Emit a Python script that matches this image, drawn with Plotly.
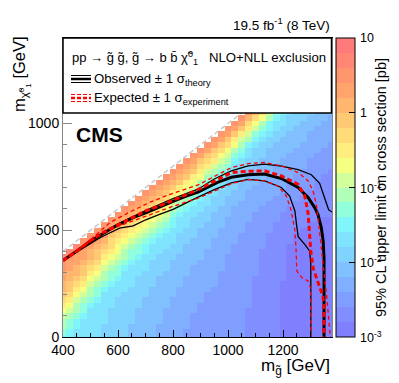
import math

import plotly.graph_objects as go

# gluino mass columns (bin centres) and LSP rows (bin centres)
mgl = list(range(400, 1400, 25))
mlsp = list(range(0, 1075, 25))

# 95% CL upper limit per gluino column, bottom to top, as colour step
# (step 0 = 1e-3 pb ... step 19 = 10 pb, 5 steps per decade), "step*count"
lim_cols = [
    "7 8 9*2 10 11 12 13 14 15*2 16*2 17*2 18",
    "7*2 8*2 9 10 11 12 13 14*2 15*2 16*2 17 18",
    "6*2 7*2 8 9*2 10 11 12 13 14 15*2 16*2 17 18",
    "6*4 7 8*2 9 10 11 12 13 14*2 15 16*2 17*2",
    "6*6 7 8 9*2 10 11 12 13 14 15*2 16 17*2",
    "6*7 7 8*2 9 10 11 12 13 14*2 15 16 17*2",
    "5*3 6*6 7 8 9*2 10 11 12 13 14 15 16*2 17",
    "5*6 6*4 7 8*2 9 10 11 12 13*2 14 15 16 17",
    "5*8 6*3 7 8*2 9 10 11*2 12 13 14 15 16 17",
    "5*9 6*4 7 8 9*2 10 11 12 13 14 15 16 17",
    "4*3 5*7 6*4 7 8*2 9 10 11 12 13 14 15 16 17",
    "4*6 5*6 6*3 7 8*2 9 10 11 12 13 14 15 16 17",
    "4*8 5*5 6*3 7*2 8 9 10 11 12 13 14 15 16 17",
    "4*10 5*5 6*3 7 8 9 10 11 12 13 14 15 16 17",
    "3*3 4*9 5*4 6*3 7 8 9 10 11 12 13 14 15 16 17",
    "3*6 4*7 5*4 6*3 7 8 9 10 11 12 13 14 15 16 17",
    "3*8 4*7 5*3 6*3 7*2 8 9 10 11 12 14 15 16 17",
    "3*10 4*6 5*4 6*3 7 8 9 10 11 12 14 15 16 17",
    "2*2 3*10 4*6 5*3 6*3 7 8 9 10 11 12 14 15 16 17",
    "2*5 3*9 4*5 5*4 6*2 7 8 9 10 11 12 14 15 16 17",
    "2*7 3*8 4*6 5*3 6*2 7*2 8 9 11 12 13 14 16 17",
    "2*9 3*8 4*5 5*3 6*3 7 8 9 10 12 13 14 16 17",
    "2*10 3*9 4*5 5*3 6*2 7 8 9 10 12 13 14 16 17",
    "2*13 3*8 4*4 5*3 6*2 7 8 9 10 11 13 14 16 17",
    "2*16 3*7 4*4 5*3 6 7 8 9 10 11 13 14 16 17",
    "2*18 3*7 4*3 5*3 6*2 7 8 9 11 12 14 16 17",
    "2*20 3*6 4*4 5*3 6 7 8 9 10 12 14 16 17",
    "1*6 2*16 3*6 4*4 5*2 6*2 7 9 10 12 13 15 17",
    "1*12 2*12 3*5 4*4 5*3 6 7 8 10 11 13 15",
    "1*17 2*8 3*5 4*4 5*3 6 7 8 9 11 13",
    "1*20 2*6 3*5 4*5 5*2 6 7*2 9 10",
    "1*22 2*5 3*6 4*4 5*2 6*2 7 8",
    "0*11 1*13 2*4 3*6 4*4 5*2 6*2 7",
    "0*18 1*7 2*5 3*5 4*4 5*3 6",
    "0*20 1*6 2*5 3*5 4*4 5*3",
    "0*21 1*6 2*5 3*5 4*4 5*2",
    "0*22 1*6 2*6 3*5 4*3 5",
    "0*22 1*8 2*5 3*5 4*3",
    "0*23 1*8 2*5 3*5 4*2",
    "0*23 1*9 2*5 3*5 4",
]

# contours
obs_x = [400, 425, 450, 475, 500, 525, 550, 575, 600, 655, 703, 751, 800, 848, 891, 964,
         1012, 1073, 1133, 1194, 1255, 1291, 1315, 1327, 1339, 1346, 1349, 1349]
obs_y = [358, 380, 400, 425, 450, 470, 490, 507, 525, 559, 582, 610, 635, 660, 678, 725,
         748, 760, 763, 742, 700, 653, 606, 574, 512, 449, 371, 0]
obs_up_x = [400, 450, 500, 550, 600, 700, 800, 891, 950, 1012, 1073, 1133, 1194, 1255,
            1303, 1333, 1346, 1358, 1366, 1378]
obs_up_y = [358, 402, 452, 493, 530, 592, 648, 692, 740, 778, 801, 809, 800, 784,
            760, 720, 675, 625, 595, 585]
obs_dn_x = [400, 450, 500, 530, 558, 606, 655, 703, 751, 800, 891, 950, 1012, 1073, 1133,
            1194, 1224, 1243, 1249, 1255, 1279, 1297, 1301, 1301]
obs_dn_y = [358, 398, 440, 462, 480, 510, 520, 550, 574, 598, 655, 690, 722, 738, 731,
            700, 660, 590, 527, 470, 434, 402, 340, 0]
exp_x = [400, 450, 500, 550, 600, 700, 764, 800, 891, 1012, 1073, 1133, 1194, 1255, 1279,
         1291, 1297, 1301, 1310, 1330, 1345, 1349, 1349]
exp_y = [358, 402, 452, 493, 525, 590, 621, 640, 690, 770, 776, 778, 754, 715, 660,
         580, 480, 400, 320, 250, 190, 140, 0]
exp_up_x = [400, 450, 500, 540, 570, 642, 715, 788, 891, 1012, 1073, 1133, 1194, 1255,
            1291, 1309, 1321, 1327, 1333, 1340, 1349, 1358, 1366, 1372]
exp_up_y = [358, 404, 455, 500, 535, 585, 630, 668, 712, 793, 812, 817, 801, 770,
            731, 684, 621, 560, 480, 400, 300, 200, 100, 0]
exp_dn_x = [400, 450, 500, 550, 600, 700, 800, 891, 1012, 1073, 1133, 1182, 1212, 1230,
            1243, 1247, 1250, 1267, 1291, 1300, 1301]
exp_dn_y = [358, 400, 448, 488, 518, 565, 612, 650, 718, 737, 731, 707, 660, 590,
            500, 418, 310, 280, 262, 230, 0]

diag = [400, 1400]

cb_vals = [-3, -2, -1, 0, 1]
cb_text = ["10<sup>-3</sup>", "10<sup>-2</sup>", "10<sup>-1</sup>", "1", "10"]

palette = [
    "#8080ff", "#808eff", "#809eff", "#80afff", "#80c0ff",
    "#80d2ff", "#80e4ff", "#80f6fa", "#91ffdc", "#afffb9",
    "#d2ff9b", "#f5ff80", "#ffee7d", "#ffdc78", "#ffc873",
    "#ffb66e", "#ffa56c", "#ff966e", "#ff8773", "#ff7a7a",
]


def decode(col):
    out = []
    for tok in col.split():
        if "*" in tok:
            lev, n = tok.split("*")
        else:
            lev, n = tok, 1
        out += [int(lev)] * int(n)
    return out


levels = [decode(c) for c in lim_cols]
z = []
for j in range(len(mlsp)):
    row = []
    for col in levels:
        row.append(-3 + 0.2 * (col[j] + 0.5) if j < len(col) else None)
    z.append(row)

cscale = []
for k, c in enumerate(palette):
    cscale.append([k / 20, c])
    cscale.append([(k + 1) / 20, c])

W, H = 399, 383
L, R, T, B = 55, 75, 30, 54


# helpers: pixel -> paper coords
def px(x):
    return (x - L) / (W - L - R)


def py(y):
    return (H - B - y) / (H - T - B)


fig = go.Figure()
fig.add_trace(go.Heatmap(
    x=mgl, y=mlsp, z=z, zmin=-3, zmax=1, colorscale=cscale,
    colorbar=dict(
        x=px(328), xanchor="left", xpad=0, y=0.5, yanchor="middle", ypad=0,
        len=1, thickness=19, outlinewidth=1, outlinecolor="black",
        tickvals=cb_vals, ticks="inside", ticklen=6, tickcolor="black",
        showticklabels=False,
    ),
    hoverinfo="skip",
))

fig.add_trace(go.Scatter(x=diag, y=diag, mode="lines",
                         line=dict(color="#c8c8c8", width=1.5, dash="5px,3px")))

for xs, ys in [(obs_up_x, obs_up_y), (obs_dn_x, obs_dn_y)]:
    fig.add_trace(go.Scatter(x=xs, y=ys, mode="lines", line=dict(color="black", width=1.3)))
fig.add_trace(go.Scatter(x=obs_x, y=obs_y, mode="lines", line=dict(color="black", width=3)))
for xs, ys in [(exp_up_x, exp_up_y), (exp_dn_x, exp_dn_y)]:
    fig.add_trace(go.Scatter(x=xs, y=ys, mode="lines",
                             line=dict(color="red", width=1.3, dash="4px,3px")))
fig.add_trace(go.Scatter(x=exp_x, y=exp_y, mode="lines",
                         line=dict(color="red", width=3, dash="5px,3px")))


def hline(x0, x1, y, color, width, dash="solid"):
    return dict(type="line", xref="paper", yref="paper", x0=px(x0), x1=px(x1),
                y0=py(y), y1=py(y), line=dict(color=color, width=width, dash=dash),
                layer="above")


shapes = [
    dict(type="rect", xref="paper", yref="paper", x0=px(55), x1=px(323.5),
         y0=py(105), y1=py(30), fillcolor="white", line=dict(color="black", width=1.5),
         layer="above"),
    hline(63, 83, 71, "black", 2.5),
    hline(63, 83, 67.5, "black", 1),
    hline(63, 83, 74.5, "black", 1),
    hline(63, 83, 90, "red", 2.5, "4px,2px"),
    hline(63, 83, 86.5, "red", 1, "4px,2px"),
    hline(63, 83, 93.5, "red", 1, "4px,2px"),
]
# minor ticks on the colour bar
for d in range(-3, 1):
    for m in range(2, 10):
        v = (d + math.log10(m) + 3) / 4
        shapes.append(dict(type="line", xref="paper", yref="paper", x0=px(344), x1=px(347),
                           y0=v, y1=v, line=dict(color="black", width=1)))

font = "Liberation Sans, Arial, sans-serif"


def note(text, x, y, size, xa="left", angle=0, ya="middle"):
    return dict(text=text, x=px(x), y=py(y), xref="paper", yref="paper", showarrow=False,
                xanchor=xa, yanchor=ya, textangle=angle,
                font=dict(size=size, color="black", family=font))


annotations = [
    note("19.5 fb<sup>-1</sup> (8 TeV)", 324, 16, 13.5, xa="right"),
    note("<b>CMS</b>", 66, 126, 21),
    note("pp \u2192 g\u0303 g\u0303, g\u0303 \u2192 b b\u0304 \u03c7\u0303<sup>0</sup><sub>1</sub>",
         62, 50, 13),
    note("NLO+NLL exclusion", 320, 50, 13.2, xa="right"),
    note("Observed \u00b1 1 \u03c3<sub>theory</sub>", 84, 71, 13.2),
    note("Expected \u00b1 1 \u03c3<sub>experiment</sub>", 84, 90, 13.2),
    note("m<sub>g\u0303</sub> [GeV]", 324, 359, 17, xa="right"),
    note("m<sub>\u03c7\u0303<sup>0</sup><sub>1</sub></sub> [GeV]", 13, 66, 16.5,
         xa="center", angle=-90),
    note("95% CL upper limit on cross section [pb]", 373, 180, 14.5, xa="center", angle=-90),
]
for v, t in zip(cb_vals, cb_text):
    annotations.append(dict(text=t, x=px(350), y=(v + 3) / 4, xref="paper", yref="paper",
                            showarrow=False, xanchor="left", yanchor="middle",
                            font=dict(size=12.5, color="black", family=font)))

fig.update_layout(
    width=W, height=H, margin=dict(l=L, r=R, t=T, b=B),
    paper_bgcolor="white", plot_bgcolor="white", showlegend=False,
    font=dict(family=font, size=14, color="black"),
    shapes=shapes, annotations=annotations,
    xaxis=dict(range=[400, 1378], showgrid=False, zeroline=False, showline=True,
               linecolor="black", linewidth=1, mirror=True, ticks="inside", ticklen=7,
               tickcolor="black", dtick=200, tick0=0, tickfont=dict(size=14),
               minor=dict(dtick=50, ticks="inside", ticklen=4, tickcolor="black")),
    yaxis=dict(range=[0, 1400], showgrid=False, zeroline=False, showline=True,
               linecolor="#888", linewidth=1, mirror=True, ticks="inside", ticklen=9,
               tickcolor="#888", dtick=500, tickfont=dict(size=14),
               minor=dict(dtick=100, ticks="inside", ticklen=4, tickcolor="#888")),
)

fig.write_html("out.html")
